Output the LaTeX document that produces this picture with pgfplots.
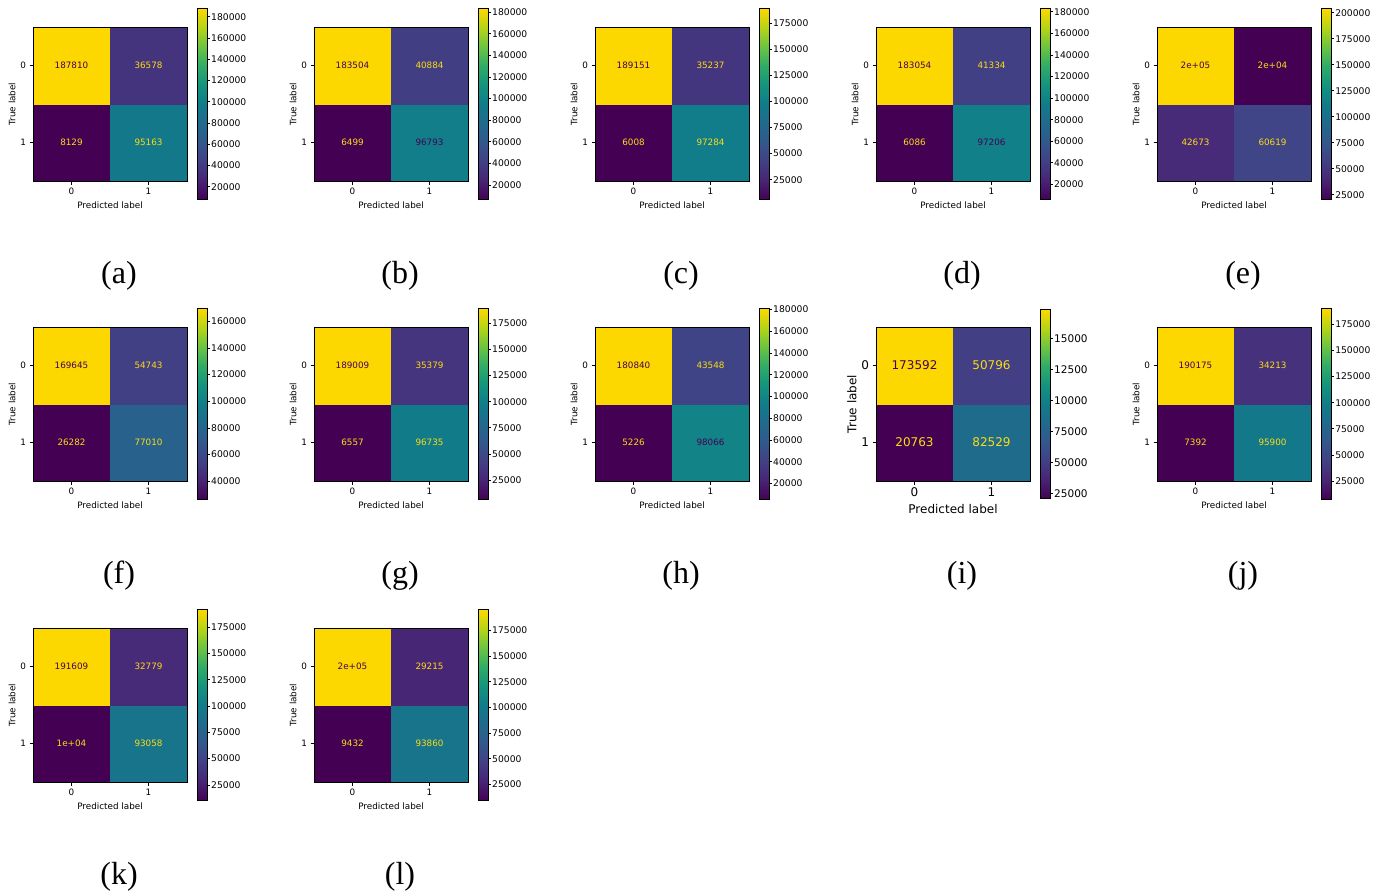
\documentclass[border=0pt]{standalone}
\usepackage{fontspec}
\setmainfont{DejaVu Sans}
\newfontfamily\capfont{Liberation Serif}
\usepackage{pgfplots}
\pgfplotsset{compat=1.18}

\definecolor{vdark}{HTML}{440154}
\definecolor{vlight}{RGB}{252,220,20}

\newcommand\tickfont{\fontsize{8.8}{10}\selectfont}
\newcommand\cellfont{\fontsize{8.8}{10}\selectfont}
\newcommand\cbfont{\fontsize{9.2}{10}\selectfont}

\pgfplotsset{
 /pgf/number format/assume math mode=true,
 colormap={cmref}{rgb255=(68,1,84) rgb255=(72,36,117) rgb255=(66,64,133)
   rgb255=(50,88,140) rgb255=(32,106,140) rgb255=(17,124,138) rgb255=(20,148,126)
   rgb255=(48,172,102) rgb255=(108,196,66) rgb255=(182,212,22) rgb255=(253,216,0)},
 cmbase/.style={
  scale only axis, width=154pt, height=154pt, anchor=north west,
  xmin=-0.5, xmax=1.5, ymin=-0.5, ymax=1.5,
  xtick={0,1}, ytick={0,1}, xticklabels={0,1}, yticklabels={1,0},
  tick pos=left, tick align=outside, major tick length=3.5pt,
  major tick style={black, line width=0.8pt},
  axis line style={black, line width=0.8pt},
  ticklabel style={font=\tickfont},
  label style={font=\tickfont},
  xlabel={Predicted label}, ylabel={True label},
  ylabel style={yshift=-2pt},
  axis on top,
  colormap name=cmref,
  colorbar,
  colorbar style={
    at={(parent axis.east)}, anchor=west, xshift=1.5pt,
    scale only axis, width=10pt, height=191pt,
    ytick pos=right, yticklabel pos=right,
    tick align=outside, major tick length=2.5pt,
    major tick style={black, line width=0.8pt},
    axis line style={black, line width=0.8pt},
    scaled y ticks=false,
    yticklabel style={font=\cbfont, inner sep=1.5pt, /pgf/number format/fixed, /pgf/number format/precision=0, /pgf/number format/1000 sep={}},
  },
 }
}

\newcommand\panel[7]{%
 \begin{axis}[cmbase, at={(#1pt,-#2pt)}, #3]
  \addplot[matrix plot*, mesh/cols=2, point meta=explicit] table[row sep=\\, meta=c] {x y c\\ #4};
  \addplot[draw=none, mark=none, nodes near coords, point meta=explicit symbolic,
     every node near coord/.append style={anchor=center, font=\cellfont, text=vdark}]
     table[row sep=\\, meta=t] {x y t\\ #5};
  \addplot[draw=none, mark=none, nodes near coords, point meta=explicit symbolic,
     every node near coord/.append style={anchor=center, font=\cellfont, text=vlight}]
     table[row sep=\\, meta=t] {x y t\\ #6};
 \end{axis}
 \node[font=\capfont\fontsize{32}{36}\selectfont] at ([xshift=86pt,yshift=-249pt]#1pt,-#2pt) {#7};
}

\begin{document}
\begin{tikzpicture}
\useasboundingbox (0,0) rectangle (1386pt,-894pt);

% (a)
\panel{33}{27}{point meta min=8129, point meta max=187810,
  colorbar style={ytick={20000,40000,60000,80000,100000,120000,140000,160000,180000}}}
 {0 0 8129\\ 1 0 95163\\ 0 1 187810\\ 1 1 36578\\}
 {0 1 187810\\}
 {1 1 36578\\ 0 0 8129\\ 1 0 95163\\}{(a)}
% (b)
\panel{314}{27}{point meta min=6499, point meta max=183504,
  colorbar style={ytick={20000,40000,60000,80000,100000,120000,140000,160000,180000}}}
 {0 0 6499\\ 1 0 96793\\ 0 1 183504\\ 1 1 40884\\}
 {0 1 183504\\ 1 0 96793\\}
 {1 1 40884\\ 0 0 6499\\}{(b)}
% (c)
\panel{595}{27}{point meta min=6008, point meta max=189151,
  colorbar style={ytick={25000,50000,75000,100000,125000,150000,175000}}}
 {0 0 6008\\ 1 0 97284\\ 0 1 189151\\ 1 1 35237\\}
 {0 1 189151\\}
 {1 1 35237\\ 0 0 6008\\ 1 0 97284\\}{(c)}
% (d)
\panel{876}{27}{point meta min=6086, point meta max=183054,
  colorbar style={ytick={20000,40000,60000,80000,100000,120000,140000,160000,180000}}}
 {0 0 6086\\ 1 0 97206\\ 0 1 183054\\ 1 1 41334\\}
 {0 1 183054\\ 1 0 97206\\}
 {1 1 41334\\ 0 0 6086\\}{(d)}
% (e)
\panel{1157}{27}{point meta min=20388, point meta max=204000,
  colorbar style={ytick={25000,50000,75000,100000,125000,150000,175000,200000}}}
 {0 0 42673\\ 1 0 60619\\ 0 1 204000\\ 1 1 20388\\}
 {0 1 2e+05\\}
 {1 1 2e+04\\ 0 0 42673\\ 1 0 60619\\}{(e)}
% (f)
\panel{33}{327}{point meta min=26282, point meta max=169645,
  colorbar style={ytick={40000,60000,80000,100000,120000,140000,160000}}}
 {0 0 26282\\ 1 0 77010\\ 0 1 169645\\ 1 1 54743\\}
 {0 1 169645\\}
 {1 1 54743\\ 0 0 26282\\ 1 0 77010\\}{(f)}
% (g)
\panel{314}{327}{point meta min=6557, point meta max=189009,
  colorbar style={ytick={25000,50000,75000,100000,125000,150000,175000}}}
 {0 0 6557\\ 1 0 96735\\ 0 1 189009\\ 1 1 35379\\}
 {0 1 189009\\}
 {1 1 35379\\ 0 0 6557\\ 1 0 96735\\}{(g)}
% (h)
\panel{595}{327}{point meta min=5226, point meta max=180840,
  colorbar style={ytick={20000,40000,60000,80000,100000,120000,140000,160000,180000}}}
 {0 0 5226\\ 1 0 98066\\ 0 1 180840\\ 1 1 43548\\}
 {0 1 180840\\ 1 0 98066\\}
 {1 1 43548\\ 0 0 5226\\}{(h)}
% (i)
\renewcommand\tickfont{\fontsize{12}{14}\selectfont}
\renewcommand\cellfont{\fontsize{12}{14}\selectfont}
\renewcommand\cbfont{\fontsize{10.5}{12}\selectfont}
\panel{876}{327}{point meta min=20763, point meta max=173592,
  colorbar style={height=189pt, ytick={25000,50000,75000,100000,125000,150000},
    yticklabels={25000,50000,75000,10000,12500,15000}}}
 {0 0 20763\\ 1 0 82529\\ 0 1 173592\\ 1 1 50796\\}
 {0 1 173592\\}
 {1 1 50796\\ 0 0 20763\\ 1 0 82529\\}{(i)}
\renewcommand\tickfont{\fontsize{8.8}{10}\selectfont}
\renewcommand\cellfont{\fontsize{8.8}{10}\selectfont}
\renewcommand\cbfont{\fontsize{9.2}{10}\selectfont}
% (j)
\panel{1157}{327}{point meta min=7392, point meta max=190175,
  colorbar style={ytick={25000,50000,75000,100000,125000,150000,175000}}}
 {0 0 7392\\ 1 0 95900\\ 0 1 190175\\ 1 1 34213\\}
 {0 1 190175\\}
 {1 1 34213\\ 0 0 7392\\ 1 0 95900\\}{(j)}
% (k)
\panel{33}{628}{point meta min=10234, point meta max=191609,
  colorbar style={ytick={25000,50000,75000,100000,125000,150000,175000}}}
 {0 0 10234\\ 1 0 93058\\ 0 1 191609\\ 1 1 32779\\}
 {0 1 191609\\}
 {1 1 32779\\ 0 0 1e+04\\ 1 0 93058\\}{(k)}
% (l)
\panel{314}{628}{point meta min=9432, point meta max=195173,
  colorbar style={ytick={25000,50000,75000,100000,125000,150000,175000}}}
 {0 0 9432\\ 1 0 93860\\ 0 1 195173\\ 1 1 29215\\}
 {0 1 2e+05\\}
 {1 1 29215\\ 0 0 9432\\ 1 0 93860\\}{(l)}
\end{tikzpicture}
\end{document}
